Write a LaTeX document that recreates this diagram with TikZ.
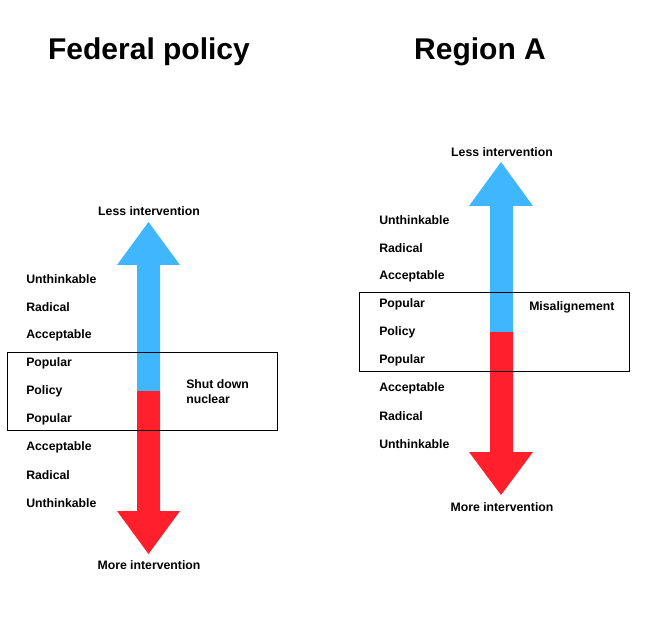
\documentclass[tikz,border=0pt]{standalone}
\usepackage{fontspec}
\setmainfont{Liberation Sans}
\usepackage{xcolor}
\usepackage{tikz}
\usetikzlibrary{positioning}

\definecolor{lessblue}{RGB}{64,182,255}
\definecolor{morered}{RGB}{255,32,44}

\begin{document}
\begin{tikzpicture}[x=0.75pt, y=-0.75pt,
  level/.style={anchor=west, inner sep=0pt, font=\bfseries\fontsize{9.2}{11.25}\selectfont},
  heading/.style={inner sep=0pt, font=\bfseries\fontsize{22.5}{27}\selectfont},
  window/.style={draw=black, line width=0.75pt}]
  \useasboundingbox (0,0) rectangle (661,631);

  % Titles
  \node[heading] (fedTitle) at (149,52) {Federal policy};
  \node[heading] (regTitle) at (480,52) {Region A};

  % Federal arrow (left)
  \fill[lessblue] (137,392) -- (137,265) -- (117,265) -- (148.5,222) -- (180,265) -- (160,265) -- (160,392) -- cycle;
  \fill[morered] (137,391) -- (137,511) -- (117,511) -- (148.5,554) -- (180,511) -- (160,511) -- (160,391) -- cycle;
  \node[level, anchor=center] (fedLess) at (149,211) {Less intervention};
  \node[level, anchor=center] (fedMore) at (149,565) {More intervention};

  \node[level] (fedUpA) at (26,279) {Unthinkable};
  \node[level] (fedUpB) at (26,307) {Radical};
  \node[level] (fedUpC) at (26,335) {Acceptable};
  \node[level] (fedUpD) at (26,363) {Popular};
  \node[level] (fedPolicy) at (26,391) {Policy};
  \node[level] (fedDnD) at (26,419) {Popular};
  \node[level] (fedDnC) at (26,447) {Acceptable};
  \node[level] (fedDnB) at (26,475) {Radical};
  \node[level] (fedDnA) at (26,503) {Unthinkable};

  \draw[window] (7,352) rectangle (277,430);
  \node[level, align=left] (fedNote) at (186,392) {Shut down\\nuclear};

  % Region arrow (right)
  \fill[lessblue] (490,333) -- (490,206) -- (469,206) -- (501,162) -- (533,206) -- (513,206) -- (513,333) -- cycle;
  \fill[morered] (490,332) -- (490,452) -- (469,452) -- (501,495) -- (533,452) -- (513,452) -- (513,332) -- cycle;
  \node[level, anchor=center] (regLess) at (502,152) {Less intervention};
  \node[level, anchor=center] (regMore) at (502,507) {More intervention};

  \node[level] (regUpA) at (379,220) {Unthinkable};
  \node[level] (regUpB) at (379,248) {Radical};
  \node[level] (regUpC) at (379,276) {Acceptable};
  \node[level] (regUpD) at (379,304) {Popular};
  \node[level] (regPolicy) at (379,332) {Policy};
  \node[level] (regDnD) at (379,360) {Popular};
  \node[level] (regDnC) at (379,388) {Acceptable};
  \node[level] (regDnB) at (379,416) {Radical};
  \node[level] (regDnA) at (379,444) {Unthinkable};

  \draw[window] (359,293) rectangle (629,371);
  \node[level] (regNote) at (529,307) {Misalignement};
\end{tikzpicture}
\end{document}
